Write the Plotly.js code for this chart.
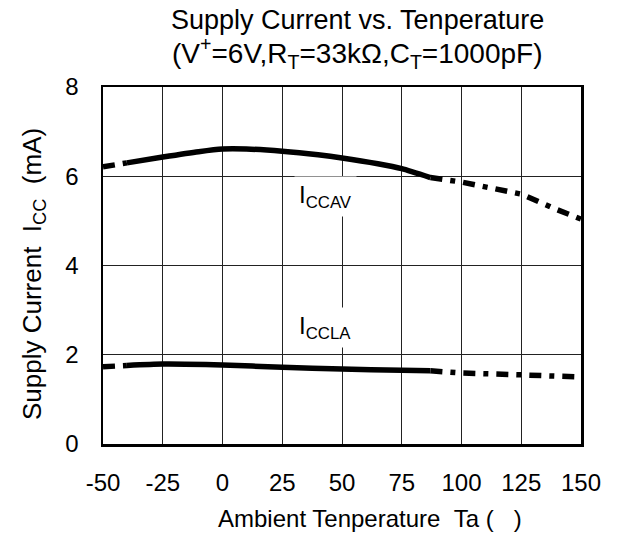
<!DOCTYPE html>
<html>
<head>
<meta charset="utf-8">
<script src="https://cdn.plot.ly/plotly-3.0.1.min.js"></script>
<style>html,body{margin:0;padding:0;background:#fff;}#chart{width:617px;height:540px;}</style>
</head>
<body>
<div id="chart"></div>
<script>
// ICCAV
const avSolidT = [-40, -25, -10, 0, 10, 25, 40, 50, 65, 75, 87];
const avSolidI = [6.30, 6.43, 6.55, 6.61, 6.61, 6.56, 6.48, 6.41, 6.28, 6.17, 5.97];
const avLeftT = [-50, -40];
const avLeftI = [6.21, 6.30];
const avRightT = [87, 100, 112, 125, 140, 150];
const avRightI = [5.97, 5.87, 5.74, 5.60, 5.25, 5.04];
// ICCLA
const laSolidT = [-40, -25, 0, 25, 50, 75, 87];
const laSolidI = [1.76, 1.79, 1.77, 1.72, 1.68, 1.65, 1.64];
const laLeftT = [-50, -40];
const laLeftI = [1.73, 1.76];
const laRightT = [87, 100, 125, 150];
const laRightI = [1.64, 1.59, 1.55, 1.50];

const xTicks = [-50, -25, 0, 25, 50, 75, 100, 125, 150];
const yTicks = [0, 2, 4, 6, 8];

const FONT = 'Liberation Sans, Arial, sans-serif';
const solid = {color: '#000', width: 5.5, shape: 'spline', smoothing: 0.6};
const dashed = {color: '#000', width: 5.5, dash: '12px,8px,5px,8px'};

function tr(x, y, line) {
  return {x: x, y: y, mode: 'lines', line: line, hoverinfo: 'skip', showlegend: false, cliponaxis: false};
}

const data = [
  tr(avLeftT, avLeftI, dashed),
  tr(avSolidT, avSolidI, solid),
  tr(avRightT, avRightI, dashed),
  tr(laLeftT, laLeftI, dashed),
  tr(laSolidT, laSolidI, solid),
  tr(laRightT, laRightI, dashed)
];

const plotL = 103, plotR = 581, plotW = plotR - plotL;
const plotTop = 87, plotBot = 444, plotH = plotBot - plotTop;
function py(p) { return (plotBot - p) / plotH; }
function px(p) { return (p - plotL) / plotW; }

const layout = {
  width: 617, height: 540,
  margin: {l: 103, r: 36, t: 87, b: 96},
  paper_bgcolor: '#fff', plot_bgcolor: '#fff',
  font: {family: FONT, color: '#000', size: 24},
  xaxis: {
    range: [-50, 150], tickvals: xTicks, ticktext: xTicks.map(String),
    showgrid: true, gridcolor: '#222', gridwidth: 1,
    showline: true, linecolor: '#000', linewidth: 2.5, mirror: true,
    ticks: 'outside', ticklen: 16, tickcolor: 'rgba(0,0,0,0)', zeroline: false,
    tickfont: {family: FONT, size: 24, color: '#000'}
  },
  yaxis: {
    range: [0, 8], tickvals: yTicks, ticktext: yTicks.map(String),
    showgrid: true, gridcolor: '#222', gridwidth: 1,
    showline: true, linecolor: '#000', linewidth: 2.5, mirror: true,
    ticks: 'outside', ticklen: 17, tickcolor: 'rgba(0,0,0,0)', zeroline: false,
    tickfont: {family: FONT, size: 24, color: '#000'}
  },
  annotations: [
    {x: px(357), y: py(20), xref: 'paper', yref: 'paper', text: 'Supply Current vs. Tenperature', showarrow: false,
     font: {family: FONT, size: 27, color: '#000'}, xanchor: 'center', yanchor: 'middle'},
    {x: px(357), y: py(53), xref: 'paper', yref: 'paper', text: '(V<sup>+</sup>=6V,R<sub>T</sub>=33kΩ,C<sub>T</sub>=1000pF)', showarrow: false,
     font: {family: FONT, size: 28, color: '#000'}, xanchor: 'center', yanchor: 'middle'},
    {x: px(370), y: py(518), xref: 'paper', yref: 'paper', text: 'Ambient Tenperature\u00a0\u00a0Ta\u00a0(\u00a0\u00a0\u00a0)', showarrow: false,
     font: {family: FONT, size: 24, color: '#000'}, xanchor: 'center', yanchor: 'middle'},
    {x: px(33), y: py(274), xref: 'paper', yref: 'paper', text: 'Supply Current\u00a0\u00a0I<sub>CC</sub>\u00a0\u00a0(mA)', showarrow: false,
     textangle: -90, font: {family: FONT, size: 26, color: '#000'}, xanchor: 'center', yanchor: 'middle'},
    {x: 42.9, y: 5.55, xref: 'x', yref: 'y', text: 'I<sub>CCAV</sub>', showarrow: false,
     font: {family: FONT, size: 24, color: '#000'}, bgcolor: '#fff', borderpad: 4},
    {x: 42.9, y: 2.6, xref: 'x', yref: 'y', text: 'I<sub>CCLA</sub>', showarrow: false,
     font: {family: FONT, size: 24, color: '#000'}, bgcolor: '#fff', borderpad: 4}
  ]
};

Plotly.newPlot('chart', data, layout, {displayModeBar: false, staticPlot: true});
</script>
</body>
</html>
